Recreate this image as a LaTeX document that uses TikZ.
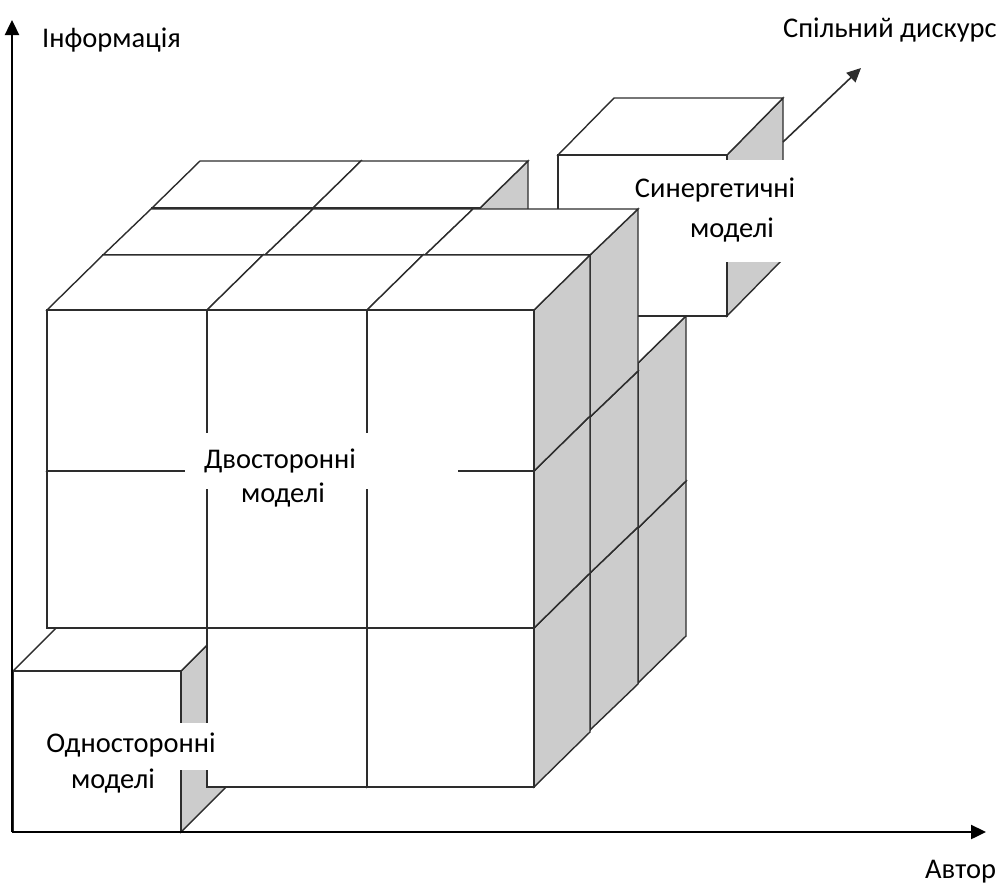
\documentclass[tikz,border=0pt]{standalone}
\usepackage{fontspec}
\setmainfont{Carlito}
\usetikzlibrary{arrows.meta}

\definecolor{sideface}{RGB}{204,204,204}
\definecolor{edgeink}{RGB}{45,45,45}

\tikzset{
  cubeedge/.style={draw=edgeink, line width=1.4pt, line join=miter},
  axisline/.style={draw=black, line width=2.4pt,
    -{Triangle[length=15pt,width=14pt]}},
  leadline/.style={draw=edgeink, line width=1.6pt,
    -{Triangle[length=14pt,width=13pt]}},
  labelbox/.style={fill=white, draw=none},
  caption/.style={inner sep=0pt, anchor=base, font=\fontsize{28.5}{34}\selectfont},
}

% One block: front face top-left corner (#1,#2), front width #3, height #4,
% receding by #5 to the right and #6 upwards.
\newcommand\blockcube[6]{%
  \filldraw[cubeedge, fill=sideface] (#1+#3,#2) -- ++(#5,-#6) -- ++(0,#4) -- ++(-#5,#6) -- cycle;
  \filldraw[cubeedge, fill=white] (#1,#2) -- ++(#5,-#6) -- ++(#3,0) -- ++(-#5,#6) -- cycle;
  \filldraw[cubeedge, fill=white] (#1,#2) rectangle ++(#3,#4);
}

\begin{document}
\begin{tikzpicture}[x=1pt, y=-1pt]
\useasboundingbox (0,0) rectangle (1002,887);

% Blocks are painted back to front: layer by layer, bottom row first,
% left column first within a row.

% ---- back layer (top right block taken out) ----
\blockcube{152}{528}{161}{155}{48}{47}
\blockcube{313}{528}{167}{155}{48}{47}
\blockcube{480}{528}{158}{155}{48}{47}
\blockcube{152}{363}{161}{165}{48}{47}
\blockcube{313}{363}{167}{165}{48}{47}
\blockcube{480}{363}{158}{165}{48}{47}
\blockcube{152}{208}{161}{155}{48}{47}
\blockcube{313}{208}{167}{155}{48}{47}

% ---- the block moved out along the diagonal ----
\blockcube{558}{155}{169}{161}{56}{57}
\fill[labelbox] (630,160) rectangle (798,262);
\node[caption] (syn1) at (715,197) {Синергетичні};
\node[caption] (syn2) at (732,237) {моделі};
\coordinate (synedge) at (783,142);
\coordinate (diagtip) at (861,68);

% ---- middle layer ----
\blockcube{103}{573}{162}{157}{48}{46}
\blockcube{265}{573}{160}{157}{48}{46}
\blockcube{425}{573}{165}{157}{48}{46}
\blockcube{103}{417}{162}{156}{48}{46}
\blockcube{265}{417}{160}{156}{48}{46}
\blockcube{425}{417}{165}{156}{48}{46}
\blockcube{103}{255}{162}{162}{48}{46}
\blockcube{265}{255}{160}{162}{48}{46}
\blockcube{425}{255}{165}{162}{48}{46}

% ---- the block moved out towards the viewer ----
\blockcube{13}{671}{168}{161}{45}{45}

% ---- front layer (bottom left block taken out) ----
\blockcube{207}{628}{160}{159}{56}{55}
\blockcube{367}{628}{167}{159}{56}{55}
\blockcube{47}{471}{160}{157}{56}{55}
\blockcube{207}{471}{160}{157}{56}{55}
\blockcube{367}{471}{167}{157}{56}{55}
\blockcube{47}{310}{160}{161}{56}{55}
\blockcube{207}{310}{160}{161}{56}{55}
\blockcube{367}{310}{167}{161}{56}{55}

% ---- captions on the blocks ----
\fill[labelbox] (185,433) rectangle (458,489);
\node[caption] (two1) at (280,468) {Двосторонні};
\node[caption] (two2) at (283,502) {моделі};

\fill[labelbox] (28,723) rectangle (228,770);
\node[caption] (one1) at (131,752) {Односторонні};
\node[caption] (one2) at (113,788) {моделі};

% ---- axes ----
\coordinate (origin) at (12,832);
\coordinate (ytip) at (12,20);
\coordinate (xtip) at (986,832);
\draw[axisline] (origin) -- (ytip);
\draw[axisline] (origin) -- (xtip);
\draw[leadline] (synedge) -- (diagtip);

\node[caption, anchor=base west] (info) at (42,47) {Інформація};
\node[caption, anchor=base west] (common) at (783,37) {Спільний дискурс};
\node[caption, anchor=base west] (author) at (925,878) {Автор};
\end{tikzpicture}
\end{document}
